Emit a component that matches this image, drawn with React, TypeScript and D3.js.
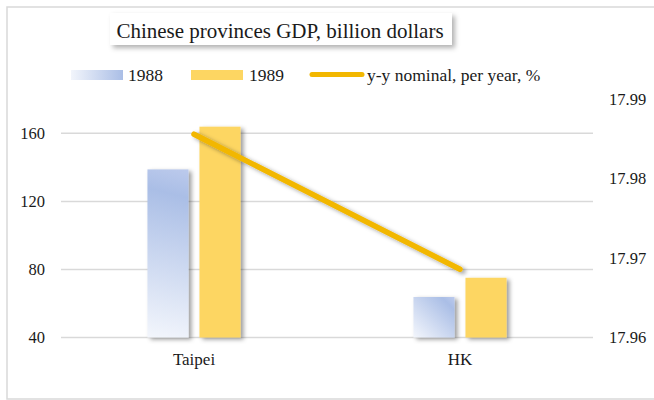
import React from "react";
import * as d3 from "d3";

const categories = ["Taipei", "HK"];
const seriesNames = ["1988", "1989"];
const gdp1988 = [138.8, 63.8];
const gdp1989 = [163.9, 75.1];
const yoy = [17.9856, 17.9686];
const leftTicks = [40, 80, 120, 160];
const rightTicks = [17.96, 17.97, 17.98, 17.99];
const lineName = "y-y nominal, per year, %";
const title = "Chinese provinces GDP, billion dollars";

const W = 654;
const H = 400;
const FONT = "'Liberation Serif', 'DejaVu Serif', serif";
const BLUE = "#aabee6";
const GOLD = "#fdd662";
const LINE = "#f2b700";

const App: React.FC = () => {
  const plot = { left: 61, right: 593, top: 99.3, bottom: 337.5 };

  const x0 = d3
    .scaleBand<string>()
    .domain(categories)
    .range([plot.left, plot.right]);
  const groupW = x0.bandwidth() * 0.35;
  const x1 = d3
    .scaleBand<string>()
    .domain(seriesNames)
    .range([0, groupW])
    .paddingInner(0.21);

  const yL = d3.scaleLinear().domain([40, 180]).range([plot.bottom, plot.top]);
  const yR = d3
    .scaleLinear()
    .domain([17.96, 17.99])
    .range([plot.bottom, plot.top]);

  const values = [gdp1988, gdp1989];
  const barX = (c: string, s: string) =>
    x0(c)! + (x0.bandwidth() - groupW) / 2 + x1(s)!;

  const line = d3
    .line<number>()
    .x((_, i) => x0(categories[i])! + x0.bandwidth() / 2)
    .y((d) => yR(d));

  const txt = { fontFamily: FONT, fill: "#1a1a1a" };

  return (
    <svg
      width={W}
      height={H}
      style={{ position: "absolute", left: 0, top: 0, background: "#fff" }}
    >
      <defs>
        <filter id="shadow" x="-30%" y="-30%" width="160%" height="160%">
          <feDropShadow
            dx="3"
            dy="2"
            stdDeviation="2"
            floodColor="#000"
            floodOpacity="0.38"
          />
        </filter>
        <filter id="boxShadow" x="-10%" y="-40%" width="120%" height="180%">
          <feDropShadow
            dx="3"
            dy="3"
            stdDeviation="2.5"
            floodColor="#000"
            floodOpacity="0.3"
          />
        </filter>
        <linearGradient id="legBlue" x1="0" y1="0" x2="1" y2="0">
          <stop offset="0" stopColor="#f2f5fb" />
          <stop offset="1" stopColor={BLUE} />
        </linearGradient>
        {categories.map((c, i) => {
          const x = barX(c, "1988");
          const w = x1.bandwidth();
          const yb = yL(40);
          const h = yb - yL(gdp1988[i]);
          return (
            <linearGradient
              key={c}
              id={`g1988-${i}`}
              gradientUnits="userSpaceOnUse"
              x1={x}
              y1={yb}
              x2={x + w}
              y2={yb - h}
            >
              <stop offset="0" stopColor="#f3f6fc" />
              <stop offset="0.84" stopColor={BLUE} />
              <stop offset="1" stopColor="#bccaec" />
            </linearGradient>
          );
        })}
      </defs>

      <rect
        x={7}
        y={7}
        width={W}
        height={392}
        fill="#fff"
        stroke="#d9d9d9"
        strokeWidth={1.5}
      />

      {/* gridlines */}
      {leftTicks.map((t) => (
        <line
          key={t}
          x1={plot.left}
          x2={plot.right}
          y1={yL(t)}
          y2={yL(t)}
          stroke="#d9d9d9"
          strokeWidth={1.5}
        />
      ))}

      {/* left axis labels */}
      {leftTicks.map((t) => (
        <text
          key={t}
          x={45}
          y={yL(t) + 5.5}
          textAnchor="end"
          fontSize={16.5}
          style={txt}
        >
          {t}
        </text>
      ))}

      {/* right axis labels */}
      {rightTicks.map((t) => (
        <text key={t} x={609} y={yR(t) + 5.5} fontSize={16.5} style={txt}>
          {t.toFixed(2)}
        </text>
      ))}

      {/* bars */}
      {categories.map((c, i) =>
        seriesNames.map((s, j) => (
          <rect
            key={c + s}
            x={barX(c, s)}
            y={yL(values[j][i])}
            width={x1.bandwidth()}
            height={yL(40) - yL(values[j][i])}
            fill={j === 0 ? `url(#g1988-${i})` : GOLD}
            filter="url(#shadow)"
          />
        ))
      )}

      {/* category labels */}
      {categories.map((c) => (
        <text
          key={c}
          x={x0(c)! + x0.bandwidth() / 2}
          y={365}
          textAnchor="middle"
          fontSize={17}
          style={txt}
        >
          {c}
        </text>
      ))}

      {/* line */}
      <path
        d={line(yoy)!}
        fill="none"
        stroke={LINE}
        strokeWidth={5.5}
        strokeLinecap="round"
        filter="url(#shadow)"
      />

      {/* title */}
      <rect
        x={110}
        y={13}
        width={342}
        height={32}
        fill="#fff"
        filter="url(#boxShadow)"
      />
      <text x={280} y={38} textAnchor="middle" fontSize={21} style={txt}>
        {title}
      </text>

      {/* legend */}
      <rect x={71} y={70} width={52} height={10} fill="url(#legBlue)" />
      <text x={128} y={81} fontSize={17.5} style={txt}>
        {seriesNames[0]}
      </text>
      <rect x={191} y={70} width={52} height={10} fill={GOLD} />
      <text x={249} y={81} fontSize={17.5} style={txt}>
        {seriesNames[1]}
      </text>
      <line
        x1={312}
        x2={362}
        y1={74.5}
        y2={74.5}
        stroke={LINE}
        strokeWidth={5}
        strokeLinecap="round"
      />
      <text x={367} y={81} fontSize={17.5} style={txt}>
        {lineName}
      </text>
    </svg>
  );
};

export default App;
